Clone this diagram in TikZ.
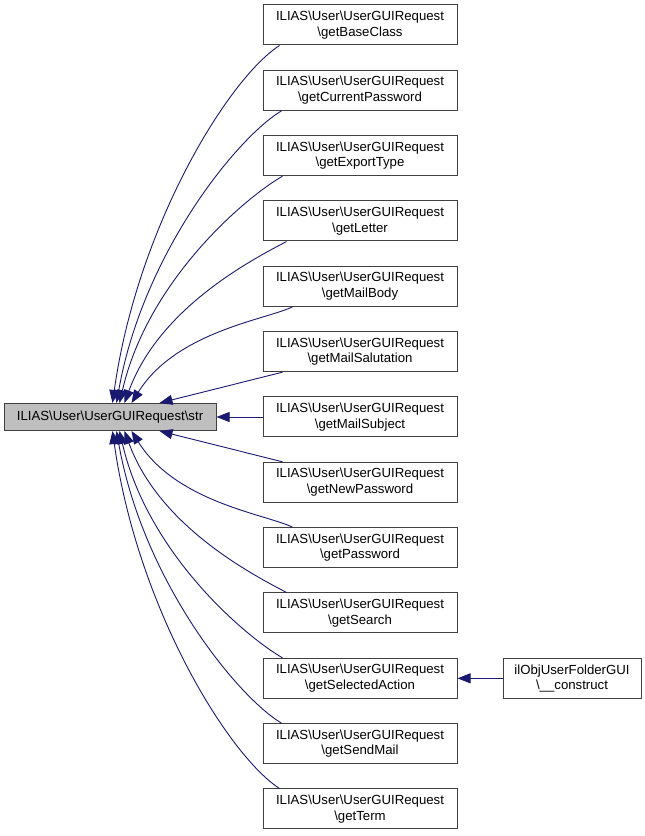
\documentclass[tikz,border=0pt]{standalone}
\usepackage{fontspec}
\setmainfont{Liberation Sans}
\usetikzlibrary{arrows.meta}
\definecolor{edgec}{HTML}{191970}
\definecolor{hl}{HTML}{BFBFBF}
\newcommand\bsl{\textbackslash}
\begin{document}
\begin{tikzpicture}[x=1pt,y=1pt,
  box/.style={draw=black!75, line width=1pt, align=center, inner sep=0pt,
    font=\fontsize{13.2}{15.5}\selectfont},
  fn/.style={box, minimum width=194pt, minimum height=40pt},
  edge/.style={draw=edgec, line width=0.9pt, -{Triangle[length=13pt,width=10pt]}},
  curv/.style={out looseness=0.4, in looseness=1.15}]
\useasboundingbox (0,0) rectangle (645,836);
\node[box, fill=hl, minimum width=212pt, minimum height=27pt] (s) at (110,419) {ILIAS\bsl User\bsl UserGUIRequest\bsl str};
\node[fn] (n1) at (360,811.00) {ILIAS\bsl User\bsl UserGUIRequest\\\bsl getBaseClass};
\node[fn] (n2) at (360,745.67) {ILIAS\bsl User\bsl UserGUIRequest\\\bsl getCurrentPassword};
\node[fn] (n3) at (360,680.33) {ILIAS\bsl User\bsl UserGUIRequest\\\bsl getExportType};
\node[fn] (n4) at (360,615.00) {ILIAS\bsl User\bsl UserGUIRequest\\\bsl getLetter};
\node[fn] (n5) at (360,549.67) {ILIAS\bsl User\bsl UserGUIRequest\\\bsl getMailBody};
\node[fn] (n6) at (360,484.33) {ILIAS\bsl User\bsl UserGUIRequest\\\bsl getMailSalutation};
\node[fn] (n7) at (360,419.00) {ILIAS\bsl User\bsl UserGUIRequest\\\bsl getMailSubject};
\node[fn] (n8) at (360,353.67) {ILIAS\bsl User\bsl UserGUIRequest\\\bsl getNewPassword};
\node[fn] (n9) at (360,288.33) {ILIAS\bsl User\bsl UserGUIRequest\\\bsl getPassword};
\node[fn] (n10) at (360,223.00) {ILIAS\bsl User\bsl UserGUIRequest\\\bsl getSearch};
\node[fn] (n11) at (360,157.67) {ILIAS\bsl User\bsl UserGUIRequest\\\bsl getSelectedAction};
\node[fn] (n12) at (360,92.33) {ILIAS\bsl User\bsl UserGUIRequest\\\bsl getSendMail};
\node[fn] (n13) at (360,27.00) {ILIAS\bsl User\bsl UserGUIRequest\\\bsl getTerm};
\node[box, minimum width=138pt, minimum height=40pt] (c) at (572,157.67) {ilObjUserFolderGUI\\\bsl\_\_construct};
% upper edges
\draw[edge] ([xshift=17pt]n1.south west) to[out=213,in=82,curv] ([xshift=109pt]s.north west);
\draw[edge] ([xshift=19pt]n2.south west) to[out=211,in=80,curv] ([xshift=113pt]s.north west);
\draw[edge] ([xshift=20pt]n3.south west) to[out=210,in=77,curv] ([xshift=116pt]s.north west);
\draw[edge] ([xshift=24pt]n4.south west) to[out=208,in=70,curv] ([xshift=121pt]s.north west);
\draw[edge] ([xshift=30pt]n5.south west) to[out=206,in=58,curv] ([xshift=128pt]s.north west);
\draw[edge] ([xshift=20pt]n6.south west) to[out=194,in=14,curv] ([xshift=156pt]s.north west);
\draw[edge] (n7.west) -- (s.east);
% lower edges
\draw[edge] ([xshift=20pt]n8.north west) to[out=166,in=-14,curv] ([xshift=156pt]s.south west);
\draw[edge] ([xshift=30pt]n9.north west) to[out=154,in=-58,curv] ([xshift=128pt]s.south west);
\draw[edge] ([xshift=24pt]n10.north west) to[out=152,in=-70,curv] ([xshift=121pt]s.south west);
\draw[edge] ([xshift=20pt]n11.north west) to[out=150,in=-77,curv] ([xshift=116pt]s.south west);
\draw[edge] ([xshift=19pt]n12.north west) to[out=149,in=-80,curv] ([xshift=113pt]s.south west);
\draw[edge] ([xshift=17pt]n13.north west) to[out=147,in=-82,curv] ([xshift=109pt]s.south west);
\draw[edge] (c.west) -- (n11.east);
\end{tikzpicture}
\end{document}
